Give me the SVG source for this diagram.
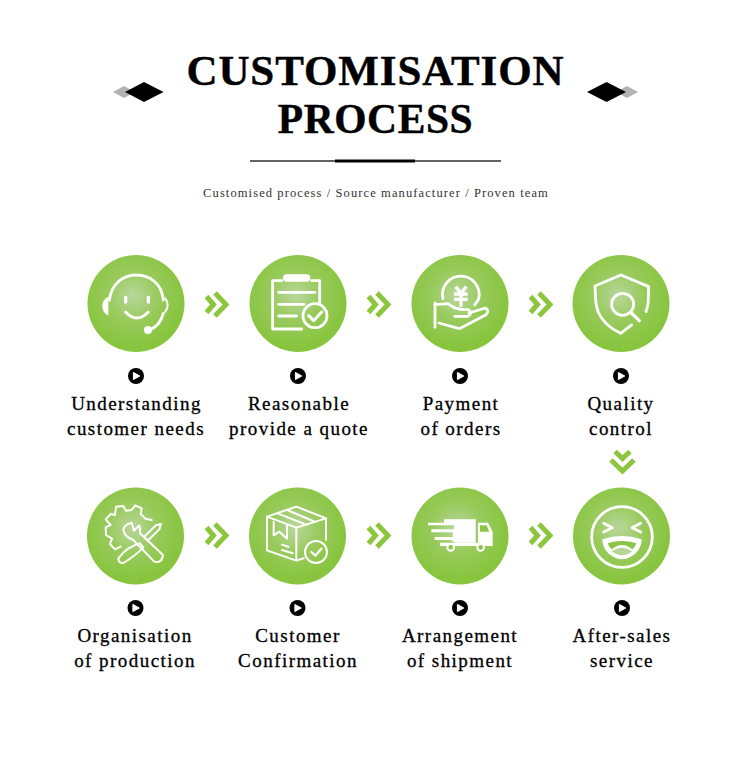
<svg xmlns="http://www.w3.org/2000/svg" width="750" height="764" viewBox="0 0 750 764">
<style>
text{font-family:"Liberation Serif",serif;fill:#000;text-anchor:middle}
.t{font-size:43px;font-weight:700;letter-spacing:.9px;stroke:#000;stroke-width:.4px}
.t2{font-size:41.500px;letter-spacing:.6px}
.s{font-size:12.500px;letter-spacing:1.1px;fill:#333}
.l{font-size:19px;letter-spacing:1.45px;stroke:#000;stroke-width:.3px}
.disc{fill:url(#g)}
.ic{fill:none;stroke:#fff;stroke-width:8.500;stroke-linecap:round;stroke-linejoin:round}
.f{fill:#fff;stroke:none}
.gr{fill:#8ac644;stroke:none}
.chev{fill:none;stroke:#8cc63f;stroke-width:5}
</style>
<defs>
<radialGradient id="g" cx=".47" cy=".42" r=".52"><stop offset="0" stop-color="#b9d79b"/><stop offset=".5" stop-color="#98ca5c"/><stop offset="1" stop-color="#88c53f"/></radialGradient>
<g id="play"><circle r="8" fill="#000"/><path d="M-2.600,-3.600 L3.800,0 L-2.600,3.600 Z" fill="#fff" stroke="#fff" stroke-linejoin="round"/></g>
<g id="arrow"><path class="chev" d="M-10.500,-7.500 L-3.500,0.500 L-10.500,8.500"/><path class="chev" d="M-2,-11 L9,0.500 L-2,12"/></g>
</defs>
<rect width="750" height="764" fill="#fff"/>

<g id="header">
<path d="M113,92 L124,86 L135,92 L124,98 Z" fill="#b3b3b3"/>
<path d="M125,92 L144,82 L163.500,92 L144,102 Z" fill="#000"/>
<path d="M616,92 L627,86 L638,92 L627,98 Z" fill="#b3b3b3"/>
<path d="M587,92 L606.500,82 L626,92 L606.500,102 Z" fill="#000"/>
<text class="t" x="375.500" y="85">CUSTOMISATION</text>
<text class="t t2" x="375.500" y="133">PROCESS</text>
<rect x="250" y="160.300" width="251" height="1.400" fill="#222"/>
<rect x="335" y="159.500" width="80" height="3" fill="#000"/>
<text class="s" x="376" y="197">Customised process / Source manufacturer / Proven team</text>
</g>

<g id="connectors">
<use href="#arrow" x="217" y="304"/>
<use href="#arrow" x="379" y="304"/>
<use href="#arrow" x="541" y="304"/>
<use href="#arrow" x="217" y="535"/>
<use href="#arrow" x="379" y="535"/>
<use href="#arrow" x="541" y="535"/>
<path class="chev" d="M615,451.500 L622.500,458.500 L630,451.500"/>
<path class="chev" d="M611,460 L622.500,471 L634,460"/>
</g>

<g id="n1">
<circle class="disc" cx="136" cy="303.500" r="48.500"/>
<g transform="translate(80,250) scale(.3333)" class="ic">
<path d="M88,150 C95,100 130,75 168,75 C210,75 245,100 250,150"/>
<path class="f" d="M85,140 Q66,150 67,170 Q68,188 85,197 Z"/>
<path d="M256,145 Q270,165 256,185" stroke-width="6"/>
<path d="M250,190 Q240,228 208,240"/>
<circle class="f" cx="204" cy="240" r="12"/>
<path d="M137,142 V156 M205,142 V156" stroke-width="10"/>
<path d="M137,186 Q170,222 205,186"/>
</g>
<use href="#play" x="136" y="376"/>
<text class="l" x="136.500" y="410">Understanding</text>
<text class="l" x="136" y="435">customer needs</text>
</g>

<g id="n2">
<circle class="disc" cx="298" cy="303.500" r="48.500"/>
<g transform="translate(80,250) scale(.3333)" class="ic">
<path d="M605,92 H578 V237 H665 M695,92 H719 V160"/>
<rect class="f" x="609" y="73" width="82" height="22" rx="11"/>
<path d="M596,127 H705 M596,163 H672 M596,198 H650"/>
<circle cx="705" cy="197" r="36"/>
<path d="M686,197 L701,212 L725,186" stroke-width="9"/>
</g>
<use href="#play" x="298" y="376"/>
<text class="l" x="299" y="410">Reasonable</text>
<text class="l" x="299" y="435">provide a quote</text>
</g>

<g id="n3">
<circle class="disc" cx="460" cy="303.500" r="48.500"/>
<g transform="translate(414,258) scale(.3333)" class="ic">
<path d="M87,122 A55,55 0 1 1 194,122 Q190,132 182,140"/>
<path d="M125,86 L141,106 L157,86 M120,108 H161 M120,124 H161 M141,106 V146" stroke-width="10" stroke-linecap="butt"/>
<path d="M63,135 V208"/>
<path d="M63,140 L102,137 Q125,155 150,155 H163 Q178,165 162,175 H122"/>
<path d="M165,165 L214,150 Q228,158 216,170 L136,212 L75,195"/>
</g>
<use href="#play" x="460" y="376"/>
<text class="l" x="461" y="410">Payment</text>
<text class="l" x="461" y="435">of orders</text>
</g>

<g id="n4">
<circle class="disc" cx="621" cy="303.500" r="48.500"/>
<g transform="translate(400,250) scale(.3333)" class="ic">
<path d="M695,225 L662,250 Q590,215 587,150 L585,108 L663,75 L746,110 L745,150 Q745,168 738,185"/>
<circle cx="668" cy="163" r="33"/>
<path d="M695,190 L718,212" stroke-width="10"/>
</g>
<use href="#play" x="621" y="376"/>
<text class="l" x="621" y="410">Quality</text>
<text class="l" x="621" y="435">control</text>
</g>

<g id="n5">
<circle class="disc" cx="135.500" cy="536" r="48.500"/>
<g transform="translate(90,490) scale(.3333)" class="ic" style="stroke-width:6">
<path d="M92,170 L75,178 L60,162 L66,146 L48,135 L47,112 L62,105 L47,88 L62,72 L75,75 L78,50 L100,48 L108,62 L125,60 L136,46 L155,55 L152,72 L166,86 L185,90"/>
<path d="M125,98 Q100,105 100,120 Q103,140 130,150 L192,214 Q215,222 219,195 L150,130 Q150,115 148,106 L132,122 Z"/>
<path d="M198,106 L213,102 L208,118 L173,152 L162,141 Z"/>
<path d="M150,160 Q112,170 85,205 Q85,220 100,219 Q135,198 160,172 Z"/>
</g>
<use href="#play" x="135.500" y="608"/>
<text class="l" x="135" y="642">Organisation</text>
<text class="l" x="135" y="667">of production</text>
</g>

<g id="n6">
<circle class="disc" cx="297.500" cy="536" r="48.500"/>
<g transform="translate(252,490) scale(.3333)" class="ic" style="stroke-width:6">
<path d="M133,50 L45,80 V181 L133,212 L155,205 M133,50 L222,85 V150 M45,80 L133,113 L222,85 M133,113 V212"/>
<path d="M77,70 L165,105 M105,60 L190,96"/>
<path d="M65,95 V136 L82,125 L105,146 V106"/>
<path d="M90,164 L110,171 M90,180 L122,190"/>
<circle cx="192" cy="186" r="33"/>
<path d="M178,186 L190,197 L208,176" stroke-width="7"/>
</g>
<use href="#play" x="297.500" y="608"/>
<text class="l" x="298" y="642">Customer</text>
<text class="l" x="298" y="667">Confirmation</text>
</g>

<g id="n7">
<circle class="disc" cx="460" cy="536" r="48.500"/>
<g transform="translate(414,490) scale(.3333)">
<path class="f" d="M90,88 H185 V158 H125 L110,150 H62 V141 H116 V127 H52 V118 H120 V106 H42 V98 H90 Z"/>
<path class="f" d="M192,98 H222 L236,125 V168 H192 Z"/>
<path class="gr" d="M198,106 H218 L226,125 H198 Z"/>
<path class="f" d="M78,158 H192 V168 H78 Z"/>
<circle cx="110" cy="172" r="10" fill="#8ac644" stroke="#fff" stroke-width="6"/>
<circle cx="200" cy="172" r="10" fill="#8ac644" stroke="#fff" stroke-width="6"/>
</g>
<use href="#play" x="460" y="608"/>
<text class="l" x="460" y="642">Arrangement</text>
<text class="l" x="460" y="667">of shipment</text>
</g>

<g id="n8">
<circle class="disc" cx="621.500" cy="536" r="48.500"/>
<g transform="translate(575,490) scale(.3333)" class="ic">
<circle cx="141" cy="141" r="91"/>
<path d="M86,100 L112,113 L86,126 M197,100 L171,113 L197,126"/>
<path class="f" d="M82,148 Q141,128 200,148 Q200,172 182,190 Q141,226 100,190 Q82,172 82,148 Z"/>
<path class="gr" d="M98,160 Q141,146 184,160 Q180,172 172,178 Q141,152 110,178 Q102,172 98,160 Z"/>
<path d="M110,184 Q141,162 172,184 Q141,208 110,184 Z" fill="#b5d694" stroke="none"/>
</g>
<use href="#play" x="622" y="608"/>
<text class="l" x="622" y="642">After-sales</text>
<text class="l" x="622" y="667">service</text>
</g>
</svg>
